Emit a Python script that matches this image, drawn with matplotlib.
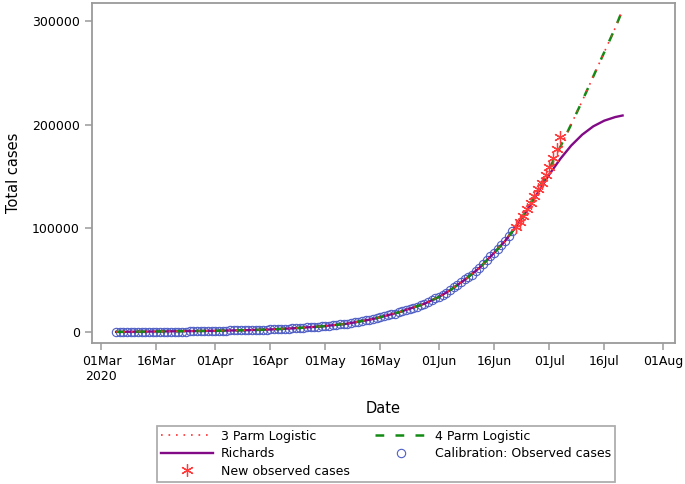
import matplotlib
matplotlib.use("Agg")
import matplotlib.pyplot as plt
import numpy as np
from matplotlib.lines import Line2D

COLOR_CIRCLE = "#4f5fc4"
COLOR_STAR = "#ff3b3b"
COLOR_RICHARDS = "#820a86"
COLOR_LOG4 = "#138a13"
COLOR_LOG3 = "#ff3030"
COLOR_AXIS = "#9a9a9a"

# calibration data: daily totals, 05Mar - 21Jun
calib_start = "2020-03-05"
calib_cases = [
    1, 1, 2, 3, 7, 7, 13, 17, 24, 38, 51, 62, 85, 116, 150, 202, 240, 274, 402, 554,
    709, 927, 1170, 1187, 1280, 1326, 1353,
    1380, 1462, 1505, 1585, 1655, 1686, 1749, 1845, 1934, 2003,
    2028, 2173, 2272, 2415, 2506, 2605, 2783, 3034, 3158, 3300,
    3465, 3635, 3953, 4220, 4361, 4546, 4793, 4996, 5350, 5647,
    5951, 6336, 6783, 7220, 7572, 7808, 8232, 8895, 9420, 10015,
    10652, 11350, 12074, 12739, 13524, 14355, 15515, 16433, 17200, 18003,
    19137, 20125, 21343, 22583, 23615, 24264, 25937, 27403, 29240, 30967, 32683,
    34357, 35812, 37525, 40792, 43434, 45973, 48285, 50879, 52991, 55421,
    58568, 61927, 65736, 70038, 73533, 76334, 80412, 83890, 87715, 92681, 97302,
]

# new observed cases: daily totals, 22Jun - 04Jul
new_start = "2020-06-22"
new_cases = [101590, 106108, 111796, 118375, 124590, 131800, 138134,
             144264, 151209, 159333, 168061, 177124, 187977]

# fitted curves
fit_dates = ["2020-03-05", "2020-03-12", "2020-03-19", "2020-03-26", "2020-04-02",
             "2020-04-09", "2020-04-16", "2020-04-23", "2020-04-30", "2020-05-07",
             "2020-05-14", "2020-05-21", "2020-05-28", "2020-06-01", "2020-06-04",
             "2020-06-08", "2020-06-12", "2020-06-16", "2020-06-19", "2020-06-22",
             "2020-06-25", "2020-06-28", "2020-07-01", "2020-07-04", "2020-07-07",
             "2020-07-10", "2020-07-13", "2020-07-16", "2020-07-19", "2020-07-21"]
logistic3 = [300, 500, 800, 1100, 1400, 1900, 2600, 3900, 5600, 8200,
             12700, 19100, 27400, 34000, 40500, 50500, 62000, 76500, 88000, 102000,
             118500, 137500, 157500, 178500, 200500, 223000, 246500, 270000, 293500, 311000]
logistic4 = [300, 500, 800, 1100, 1400, 1900, 2600, 3900, 5600, 8200,
             12700, 19100, 27400, 34000, 40500, 50500, 62000, 76500, 88000, 102000,
             118500, 137500, 157500, 178500, 200500, 223000, 246500, 270000, 293500, 311000]
richards = [300, 500, 800, 1100, 1400, 1900, 2600, 3900, 5600, 8200,
            12700, 19100, 27400, 34000, 40500, 50500, 62000, 76500, 88000, 102000,
            117500, 135000, 152000, 167000, 180000, 190500, 198500, 204000, 207500, 209000]

tick_dates = ["2020-03-01", "2020-03-16", "2020-04-01", "2020-04-16", "2020-05-01",
              "2020-05-16", "2020-06-01", "2020-06-16", "2020-07-01", "2020-07-16",
              "2020-08-01"]
tick_labels = ["01Mar\n2020", "16Mar", "01Apr", "16Apr", "01May", "16May",
               "01Jun", "16Jun", "01Jul", "16Jul", "01Aug"]
y_ticks = [0, 100000, 200000, 300000]

calib_x = np.arange(np.datetime64(calib_start), np.datetime64(calib_start) + len(calib_cases))
new_x = np.arange(np.datetime64(new_start), np.datetime64(new_start) + len(new_cases))
fit_x = np.array(fit_dates, dtype="datetime64[D]")

fig = plt.figure(figsize=(6.85, 4.84), dpi=100)
ax = fig.add_axes([0.134, 0.291, 0.851, 0.703])

ax.plot(calib_x, calib_cases, linestyle="none", marker="o", markersize=6,
        markerfacecolor="none", markeredgecolor=COLOR_CIRCLE, markeredgewidth=0.8, zorder=2)
ax.plot(fit_x, richards, color=COLOR_RICHARDS, lw=1.7, zorder=3)
ax.plot(fit_x, logistic4, color=COLOR_LOG4, lw=1.8, dashes=(3.5, 4.5), zorder=3)
ax.plot(fit_x, logistic3, color=COLOR_LOG3, lw=1.2, linestyle=(0, (1, 3.5)), zorder=4)
ax.plot(new_x, new_cases, linestyle="none", marker=(6, 2, 0), markersize=9,
        color=COLOR_STAR, markeredgewidth=0.9, zorder=5)

ax.set_xlim(np.datetime64("2020-02-27") + np.timedelta64(9, "h"),
            np.datetime64("2020-08-04") + np.timedelta64(5, "h"))
ax.set_ylim(-10600, 317600)
ax.set_xticks(np.array(tick_dates, dtype="datetime64[D]"))
ax.set_xticklabels(tick_labels)
ax.set_yticks(y_ticks)
ax.set_yticklabels([str(v) for v in y_ticks])

for s in ax.spines.values():
    s.set_color(COLOR_AXIS)
    s.set_linewidth(1.3)
ax.tick_params(colors=COLOR_AXIS, labelcolor="black", labelsize=9, length=5, width=1.1)

ax.set_ylabel("Total cases", fontsize=10.5, labelpad=8)
ax.set_xlabel("Date", fontsize=10.5, labelpad=13)

handles = [
    Line2D([], [], color=COLOR_LOG3, lw=1.2, linestyle=(0, (1, 3.5))),
    Line2D([], [], color=COLOR_RICHARDS, lw=1.7),
    Line2D([], [], linestyle="none", marker=(6, 2, 0), markersize=9,
           color=COLOR_STAR, markeredgewidth=0.9),
    Line2D([], [], color=COLOR_LOG4, lw=1.8, dashes=(3.5, 4.5)),
    Line2D([], [], linestyle="none", marker="o", markersize=6,
           markerfacecolor="none", markeredgecolor=COLOR_CIRCLE, markeredgewidth=0.8),
]
labels = ["3 Parm Logistic", "Richards", "New observed cases",
          "4 Parm Logistic", "Calibration: Observed cases"]
leg = fig.legend(handles, labels, ncol=2, loc="lower center",
                 bbox_to_anchor=(0.5635, -0.008), fontsize=9, frameon=True,
                 fancybox=False, handlelength=4.2, handletextpad=0.6,
                 columnspacing=2.0, labelspacing=0.36, borderpad=0.3)
leg.get_frame().set_edgecolor(COLOR_AXIS)
leg.get_frame().set_linewidth(1.3)

fig.savefig("out.png", dpi=100)
